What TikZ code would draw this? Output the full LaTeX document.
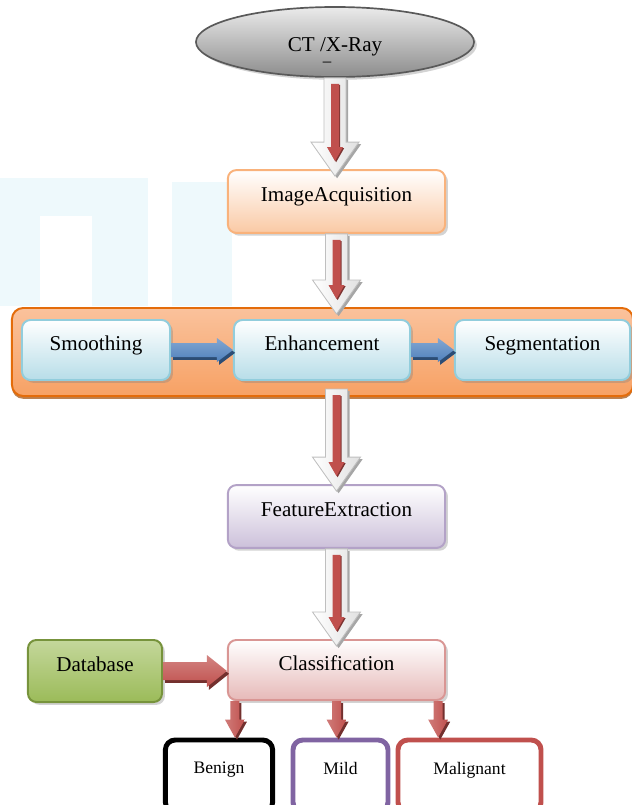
\documentclass[tikz,border=0pt]{standalone}
\usepackage{fontspec}
\setmainfont{Liberation Serif}
\usetikzlibrary{calc,shadows,shapes.geometric}

\definecolor{arrowred}{HTML}{C0504D}
\definecolor{arrowblue}{HTML}{4F81BD}
\definecolor{blueshade}{HTML}{2C4D75}
\definecolor{acqfill}{HTML}{FAC9A4}
\definecolor{acqline}{HTML}{F9B27B}
\definecolor{bandtop}{HTML}{FAC29C}
\definecolor{bandbot}{HTML}{F7A164}
\definecolor{bandline}{HTML}{E46C0A}
\definecolor{stepfill}{HTML}{B7DDE8}
\definecolor{stepline}{HTML}{92CDDC}
\definecolor{featfill}{HTML}{CCC0DA}
\definecolor{featline}{HTML}{B3A2C7}
\definecolor{classfill}{HTML}{E6B9B8}
\definecolor{classline}{HTML}{D99694}
\definecolor{dbtop}{HTML}{C4D79B}
\definecolor{dbbot}{HTML}{9BBB59}
\definecolor{dbline}{HTML}{77933C}
\definecolor{mildpurple}{HTML}{8064A2}
\definecolor{wmark}{HTML}{EEF9FC}

\tikzset{
  box/.style={draw, rounded corners=6pt, line width=1.4pt, minimum width=5.43cm,
    minimum height=1.57cm, text height=0.33cm, text depth=0.33cm, font=\fontsize{15}{18}\selectfont,
    drop shadow={shadow xshift=2pt, shadow yshift=-2pt, opacity=0.35}},
  acqbox/.style={box, draw=acqline, top color=white, bottom color=acqfill},
  featbox/.style={box, draw=featline, top color=white, bottom color=featfill},
  classbox/.style={box, draw=classline, top color=white, bottom color=classfill, minimum height=1.5cm},
  dbbox/.style={box, draw=dbline, top color=dbtop, bottom color=dbbot, minimum width=3.35cm, minimum height=1.55cm},
  stepbox/.style={box, draw=stepline, top color=white, bottom color=stepfill, minimum width=3.7cm, minimum height=1.5cm},
  stagebox/.style={draw=bandline, rounded corners=8pt, line width=1.4pt, top color=bandtop, bottom color=bandbot,
    minimum width=15.525cm, minimum height=2.2cm,
    drop shadow={shadow xshift=0pt, shadow yshift=-2pt, opacity=0.7, fill=bandline!70!black}},
  source/.style={ellipse, draw=black!65, line width=1.2pt, top color=black!8, bottom color=black!45,
    minimum width=6.95cm, minimum height=1.75cm, inner sep=0pt, text height=0.49cm, text depth=0cm,
    font=\fontsize{15}{18}\selectfont,
    drop shadow={shadow xshift=2pt, shadow yshift=-2pt, opacity=0.35}},
  outbox/.style={draw, fill=white, rounded corners=7pt, line width=3.5pt, minimum width=2.68cm,
    minimum height=1.8cm, text depth=0.4cm, font=\fontsize{12.5}{15}\selectfont}
}

% block arrows: style, start, tip, shaft half width, head half width, head length
\newcommand{\vblock}[6]{%
  \path[#1] ($(#2)+(-#4,0)$) -- ($(#2)+(#4,0)$) -- ($(#3)+(#4,-#6)$) -- ($(#3)+(#5,-#6)$) -- (#3)
    -- ($(#3)+(-#5,-#6)$) -- ($(#3)+(-#4,-#6)$) -- cycle;}
\newcommand{\hblock}[6]{%
  \path[#1] ($(#2)+(0,-#4)$) -- ($(#3)+(-#6,-#4)$) -- ($(#3)+(-#6,-#5)$) -- (#3)
    -- ($(#3)+(-#6,#5)$) -- ($(#3)+(-#6,#4)$) -- ($(#2)+(0,#4)$) -- cycle;}
\newcommand{\bigarrow}[2]{%
  \coordinate (ba-e) at (#1 |- #2);
  \coordinate (ba-t) at ($(ba-e)+(0,7)$);
  \coordinate (ri-s) at ($(#1)+(0,6)$);
  \coordinate (ri-t) at ($(ba-e)+(0,-8)$);
  \vblock{fill=black!35, transform canvas={shift={(1.5pt,-1.5pt)}}}{#1}{ba-t}{11}{24}{34}
  \vblock{left color=white, right color=black!12, draw=black!25, line width=0.6pt}{#1}{ba-t}{11}{24}{34}
  \vblock{fill=arrowred!65!black, transform canvas={shift={(0.8pt,-0.8pt)}}}{ri-s}{ri-t}{4}{8}{14}
  \vblock{fill=arrowred}{ri-s}{ri-t}{4}{8}{14}}

\begin{document}
\begin{tikzpicture}[x=0.025cm, y=-0.025cm]
\useasboundingbox (0,0) rectangle (632,805);
\clip (0,0) rectangle (632,805);

% faint background mark
\fill[wmark] (0,178) rectangle (148,306);
\fill[white] (40,216) rectangle (92,306);
\fill[wmark] (172,182) rectangle (232,306);

\node[source] (src) at (335,42) {CT /X-Ray};
\node[font=\fontsize{12}{12}\selectfont, inner sep=0pt] (dash) at (327,64) {–};
\node[acqbox] (acq) at (336.5,201.5) {ImageAcquisition};

\node[stagebox] (band) at (322.5,352) {};
\node[stepbox] (smooth) at (96,350) {Smoothing};
\node[stepbox, minimum width=4.4cm] (enhance) at (322,350) {Enhancement};
\node[stepbox, minimum width=4.375cm] (segment) at (542.5,350) {Segmentation};

\node[featbox] (feat) at (336.5,516.5) {FeatureExtraction};
\node[classbox] (classif) at (336.5,670) {Classification};
\node[dbbox] (db) at (95,671) {Database};

\node[outbox, draw=black] (benign) at (219,776) {Benign};
\node[outbox, draw=mildpurple, minimum width=2.375cm] (mild) at (340.5,776) {Mild};
\node[outbox, draw=arrowred, minimum width=3.575cm] (malig) at (469.5,776) {Malignant};

% main flow
\bigarrow{src.south}{acq.north}
\bigarrow{acq.south}{band.north}
\coordinate (b3) at ($(feat.north |- band.south)+(0,-8)$);
\bigarrow{b3}{feat.north}
\bigarrow{feat.south}{classif.north}

% preprocessing steps
\hblock{fill=blueshade, transform canvas={shift={(1.5pt,-2pt)}}}{smooth.east}{enhance.west}{7}{12}{16}
\hblock{top color=arrowblue!70!white, bottom color=arrowblue}{smooth.east}{enhance.west}{7}{12}{16}
\hblock{fill=blueshade, transform canvas={shift={(1.5pt,-2pt)}}}{enhance.east}{segment.west}{7}{12}{16}
\hblock{top color=arrowblue!70!white, bottom color=arrowblue}{enhance.east}{segment.west}{7}{12}{16}

% database
\coordinate (dbt) at (classif.west |- db.east);
\hblock{fill=arrowred!60!black, transform canvas={shift={(1.5pt,-2pt)}}}{db.east}{dbt}{9}{16}{20}
\hblock{top color=arrowred!70!white, bottom color=arrowred}{db.east}{dbt}{9}{16}{20}

% results
\coordinate (c1) at ($(classif.south west)+(8,0)$);
\coordinate (c2) at (classif.south);
\coordinate (c3) at ($(classif.south east)+(-8,0)$);
\foreach \cc in {c1,c2,c3}{
  \coordinate (\cc-t) at (\cc |- benign.north);
  \vblock{fill=arrowred!60!black, transform canvas={shift={(1.5pt,-1.5pt)}}}{\cc}{\cc-t}{4.5}{10}{18}
  \vblock{left color=arrowred!75!white, right color=arrowred}{\cc}{\cc-t}{4.5}{10}{18}
}
\end{tikzpicture}
\end{document}
